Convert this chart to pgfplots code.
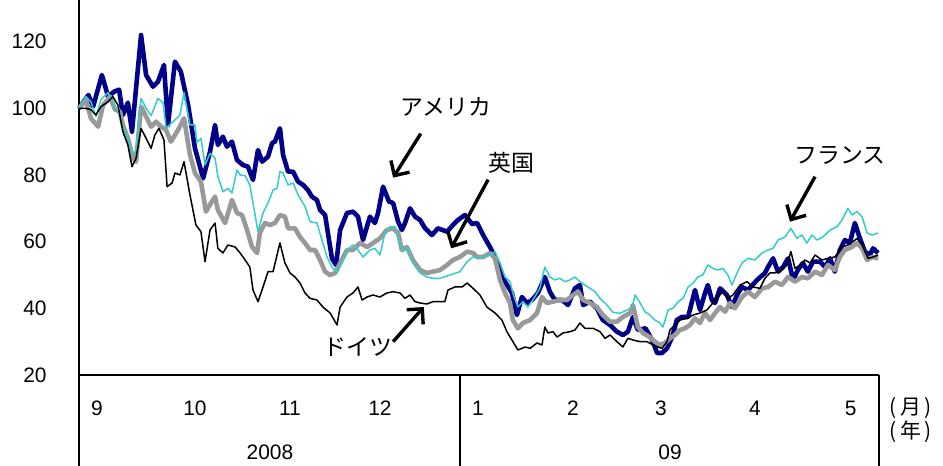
\documentclass[border=0pt]{standalone}
\usepackage{pgfplots}
\pgfplotsset{compat=1.18}
\usepackage{fontspec}
\setmainfont{Liberation Sans}
\newfontfamily\jp{Noto Sans CJK JP}
\usetikzlibrary{arrows.meta}

\definecolor{usa}{RGB}{0,0,136}
\definecolor{fra}{RGB}{51,204,204}
\definecolor{gbr}{RGB}{153,153,153}

\begin{document}
\begin{tikzpicture}
\begin{axis}[
    at={(0,0)}, anchor=south west,
    scale only axis,
    width=400bp, height=187.5bp,
    xmin=0, xmax=255.2,
    ymin=20, ymax=132.5,
    axis lines=left,
    axis line style={-, line width=0.8bp},
    ytick={20,40,60,80,100,120},
    xtick={5.7,37,67.3,96,127.3,157.6,185.6,215.6,246.2},
    xticklabels={9,10,11,12,1,2,3,4,5},
    major tick length=0pt,
    /pgf/number format/assume math mode=true,
    yticklabel style={anchor=east, inner sep=0pt, xshift=-16bp, font=\fontsize{10.5}{12}\selectfont},
    xticklabel style={anchor=center, inner sep=0pt, yshift=-16.5bp, font=\fontsize{10.5}{12}\selectfont},
    clip=false,
]

% アメリカ
\addplot[usa, line width=2.3bp, line join=round] coordinates {
(0,100) (3,104) (4.5,100.5) (7.3,110) (9.3,103.5) (11.2,105) (12.8,105.6) (14,98) (15.6,101.7) (16.9,93)
(19.8,122) (21.4,110) (23.6,106.5) (25.2,108) (27.1,113) (28.4,95) (30.6,114) (32.5,111) (34.8,101) (37,88)
(39.6,79) (41.8,87) (43.4,95) (44.3,89) (45.9,91.5) (47.2,88.5) (48.8,90) (50.4,84.5) (52.3,83) (53.9,82.5)
(55.5,78.5) (57.1,87.5) (58.4,84) (60.3,85.5) (61.6,89.6) (62.5,90) (64.1,94) (65.1,86) (66.7,81) (68.3,81)
(69.9,78) (71.5,77) (73,75.5) (74.3,73.5) (75.9,72.5) (76.9,69.5) (78.5,68) (79.4,62.6) (80.7,55) (82,53)
(83.3,63.5) (85.5,68.6) (87.4,69) (89,67.5) (90.6,60.5) (92.8,67.5) (94.4,65.6) (95.4,68.6) (97,76.5) (98.9,72)
(100.2,71.6) (101.8,66) (103,63.5) (104,65.6) (105.6,70) (107.2,67.5) (108.8,66.5) (110.4,64) (112.6,62) (114.5,64)
(117.4,63) (119.3,65) (120.9,66.5) (123.1,68) (125.4,65.3) (127,65.6) (128.9,62) (131.1,58.4) (132.7,55.4) (134.3,51.5)
(135.9,48) (138.1,44.6) (139.7,38) (141.3,43.4) (142.9,41.6) (144.5,42.5) (146.4,44.6) (148.6,49.4) (150.2,45) (151.8,42.5)
(154.1,42.5) (156,41) (158.2,46) (159.8,47) (160.8,41) (163,42) (165.2,40) (167.1,36.5) (169.4,35) (171.6,33)
(173.5,32) (175.1,33) (176.7,37.4) (178.3,33.5) (180.7,34) (182.3,31.4) (183.1,30) (184.4,26.6) (186,26.6) (187.6,28)
(189.2,31.4) (190.7,36.5) (192.3,37.4) (194.3,37.4) (196.5,45.5) (198.1,39.5) (199.7,44.6) (200.6,47) (201.9,42.5) (202.9,41.6)
(204.5,46) (206.7,44) (208.3,40.4) (209.9,44) (211.5,46.4) (213.4,45.5) (216.3,48.5) (218.8,50.6) (219.8,52.4) (221.4,55)
(223,51) (224.6,52.4) (226.2,55) (227.8,48.5) (229.3,51.5) (230.9,53.6) (232.5,51) (234.1,54) (236.4,54) (238,52.4)
(239.6,55) (241.1,51) (242.7,57.5) (244.3,60.5) (245.9,59.6) (247.5,65.6) (249.1,61) (250.7,57) (252.3,56) (253.3,58)
(254.9,56.6)
};

% 英国
\addplot[gbr, line width=2.3bp, line join=round] coordinates {
(0,100) (2.2,102.6) (3.8,97) (6.1,94.5) (7.7,101) (9.9,103.5) (11.5,99.6) (13.1,99) (14,95) (15.6,91)
(17.2,85) (18.2,84) (19.8,100.5) (21.4,97.5) (23,94.5) (24.6,96) (26.2,94.5) (27.8,93.5) (29.3,90) (31.6,93.5)
(33.5,97) (35.4,86) (37,80.6) (38.9,78) (40.5,69) (42.1,71.6) (43.4,73.5) (44.3,69.5) (46.6,65.6) (48.8,72.5)
(50.4,68.6) (52,68) (53.6,63.5) (55.2,58.4) (56.8,56.6) (57.7,62.6) (59.3,65.6) (60.9,65) (62.5,65.6) (64.1,68)
(65.7,67.5) (66.7,64) (68.9,64) (70.5,61.4) (72.1,59.6) (73.7,57.5) (75.3,57.5) (76.9,54.5) (78.5,51) (80.1,50)
(81.7,50.6) (83.3,53.6) (85.5,57.5) (87.4,57.5) (89.6,59.6) (91.9,58.4) (93.8,59.6) (96,61) (98.2,63.5) (100.2,64)
(101.8,62.6) (103,57.5) (104.6,58.4) (106.5,54.5) (108.8,51.5) (111,50.6) (112.9,51) (115.2,51.5) (117.4,53) (119.3,54.5)
(121.5,55.4) (123.8,57) (125.7,56.6) (127,55.4) (128.9,55.4) (131.1,56.6) (132.7,55) (134.3,48.5) (135.9,44.6) (137.5,41.6)
(138.4,36.5) (140,34) (141.6,35.6) (143.9,36.5) (146.1,38.6) (147.7,43.4) (149.3,41.6) (151.2,42) (153.4,42.5) (155.7,42.5)
(157.6,44) (159.2,45) (160.8,42.5) (163,41.6) (165.2,40.4) (167.1,38) (169.4,36) (171.6,36) (173.5,37.4) (175.8,38.6)
(176.7,41) (178.3,34.4) (179.9,32.6) (182.1,31.4) (183.7,30) (185.3,29) (186.9,29.6) (188.5,31) (190.1,32) (191.7,33.5)
(193.3,34) (194.9,35) (196.5,37) (198.1,35.6) (199.7,38.6) (201.3,36.5) (202.9,38.6) (204.5,40.4) (206.1,39) (207.7,41.6)
(209.2,40) (211.5,43.4) (213.4,45) (215.6,43.4) (217.9,46) (219.8,46.4) (222,48) (224.2,47) (226.2,49.4) (228.4,48)
(230.6,49.4) (232.5,49) (234.8,51) (237,50) (238.9,53) (241.1,51.5) (242.7,55.4) (244.3,57.5) (246.6,58.4) (248.2,59.6)
(249.8,58) (251.4,54.5) (253,55.4) (254.9,55)
};

% フランス
\addplot[fra, line width=0.75bp, line join=round] coordinates {
(0,100) (2.2,103.5) (3.8,102) (5.4,97.5) (7,102.6) (9.3,104.7) (10.8,101.7) (12.4,99) (14,94.5) (15.6,91)
(17.2,86.6) (18.2,87) (19.8,103) (21.4,100) (23,97.8) (25.2,103) (26.8,101.7) (27.8,94) (30,96) (32.2,98)
(33.5,104.7) (35.4,95) (37,95) (37.6,89.7) (38.9,91) (40.2,83) (41.8,86.5) (43.4,85) (44.3,79.5) (45.9,75)
(47.5,76) (48.8,74.6) (50.4,81.5) (51.4,80) (53,79.8) (54.5,77) (55.5,71.6) (57.1,63) (58.7,68.6) (60.3,71.6)
(61.9,75.5) (63.2,76) (64.1,81) (65.1,80.6) (66.7,77) (68.3,77.6) (69.9,74) (72.1,70.5) (73.7,66) (75.9,65.6)
(77.5,60.5) (79.1,55.4) (80.7,52.4) (82.3,50.6) (83.9,53.6) (85.5,57.5) (87.4,59) (89,57.5) (90.6,55.4) (92.8,57.5)
(94.4,58) (96,56) (97.6,62.6) (99.2,64.5) (100.8,64.5) (102.4,59.6) (103.3,57) (104.9,58.4) (106.5,53.6) (108.8,50.6)
(111,49.4) (112.9,49) (115.2,49) (117.4,49.7) (119.3,50.3) (121.5,51) (123.8,54) (125.7,55.4) (128.9,55.4) (131.1,56)
(132.7,57) (134.3,53.6) (135.9,49.4) (137.5,48) (138.4,44.6) (140,40.4) (141.6,42) (143.2,40.4) (144.8,42.5) (147,46)
(148.6,52.4) (150.2,49.4) (151.8,48.5) (153.4,49) (155,48) (156.6,48.5) (158.2,49.4) (159.8,48) (161.4,47) (163,46)
(164.6,45) (166.2,43) (168.4,41) (170.3,38.8) (172.6,38.5) (174.8,39.5) (176.4,40.2) (177.4,44) (179,41.6) (180.5,39)
(182.1,38) (183.7,36.5) (185.3,35.6) (186.3,34.4) (187.9,39.5) (189.5,40) (191.1,42) (192.7,43) (194.3,46.4) (195.9,47.6)
(197.4,49.4) (199,50) (200.6,53) (202.2,52) (203.8,51.5) (205.4,52) (207,50) (208.3,47) (209.9,50.6) (211.5,53.6)
(213.4,55) (215.6,54.5) (217.9,56.6) (219.8,57.5) (221.4,58) (223,60.5) (225.2,61.4) (227.1,64) (229,61) (230.6,62)
(232.2,59.6) (233.8,62) (235.4,60.5) (237.3,61.4) (239.6,63.5) (241.8,64.5) (243.4,66.5) (245.3,70) (246.6,68) (248.2,69)
(249.8,67.5) (251.4,62.6) (253,62) (254.9,62.6)
};

% ドイツ
\addplot[black, line width=0.75bp, line join=round] coordinates {
(0,100) (2.2,100) (3.8,99.6) (5.4,98) (7,100.5) (9.3,102) (10.8,103.5) (12.4,101) (14,93) (15.6,89)
(16.9,82.5) (18.2,85) (19.8,94) (21.4,91) (23,88) (24.2,92) (25.5,94) (27.1,90.5) (28.1,76.5) (29.7,77.6)
(30.6,80.6) (32.2,80) (33.5,84) (35.4,74) (37.3,65) (38.9,63) (40.2,54) (41.8,63.5) (43.4,65.6) (44.3,58)
(45.9,56.6) (47.5,59) (49.8,58.4) (51.4,56.6) (53,54.5) (54.5,52.4) (55.5,45.5) (57.1,42) (58.7,46.4) (60.3,51)
(61.9,51) (64.1,59.6) (65.7,53.6) (67.3,50.6) (68.9,49.4) (70.5,47.6) (72.1,44.6) (73.7,43) (75.9,42.5) (77.8,40.4)
(80.1,38.6) (82.3,35) (83.3,40.4) (85.5,43.4) (87.4,44.6) (89,46.4) (90.3,42.5) (91.9,43.4) (93.8,44) (96,43.4)
(98.2,44.6) (100.2,45) (102.4,44.6) (104,43) (105.6,44) (107.2,42) (108.8,41.6) (111,41.3) (112.9,42) (116.7,42)
(117.7,45.5) (119.9,46.4) (122.2,46.4) (123.8,47.6) (125.7,46) (127.9,44) (130.1,40.4) (132.7,38.6) (134.9,36.5) (136.5,33)
(138.1,30.5) (140,27.5) (142.3,28.4) (143.9,28) (146.1,29.6) (147.7,29) (148.6,34.4) (149.6,32.6) (151.2,33) (152.5,31.4)
(154.4,32.6) (156.6,33) (158.2,33.5) (159.8,35.6) (161.4,34) (164,34) (166.2,33) (167.8,31) (169.4,32) (171.6,30)
(173.5,28.4) (175.1,31) (176.7,30.5) (179,30) (181.2,30) (183.1,29) (184.7,28.4) (186,28) (187.6,30) (188.5,33.5)
(190.1,35) (191.7,36.5) (193.9,37) (195.9,38) (198.1,38.6) (200.3,39.5) (202.2,41.6) (203.8,43.4) (205.4,45) (207,43)
(208.6,44) (210.9,47) (213.1,48) (215,46.4) (217.2,46) (218.8,49) (220.4,50.6) (222,50.6) (224.2,51.5) (225.8,53)
(227.1,57) (228.4,52) (230,53) (231.6,54.5) (233.2,53.6) (234.8,56) (237,54.5) (238.9,55) (241.1,55.4) (243.4,58.4)
(245.3,59) (246.9,60) (248.2,61) (249.8,59) (251.7,55) (253.3,55.4) (254.9,56)
};

% 注記
\node[font=\jp\fontsize{11.5}{13}\selectfont] at (axis cs:117,100.5) {アメリカ};
\draw[-{Straight Barb[length=5.5bp,width=11bp]}, line width=1.7bp] (axis cs:109,92.4) -- (axis cs:100.2,79.2);
\node[font=\jp\fontsize{11.5}{13}\selectfont] at (axis cs:138,83.7) {英国};
\draw[-{Straight Barb[length=5.5bp,width=11bp]}, line width=1.7bp] (axis cs:130.5,78.6) -- (axis cs:118.7,58);
\node[font=\jp\fontsize{11.5}{13}\selectfont] at (axis cs:242.7,85.8) {フランス};
\draw[-{Straight Barb[length=5.5bp,width=11bp]}, line width=1.7bp] (axis cs:234.8,79.5) -- (axis cs:226.8,66);
\node[font=\jp\fontsize{11.5}{13}\selectfont] at (axis cs:89,28.4) {ドイツ};
\draw[-{Straight Barb[length=5.5bp,width=11bp]}, line width=1.7bp] (axis cs:100.2,30) -- (axis cs:110,40.4);
\end{axis}

% 下の表
\draw[line width=0.8bp] (0,0) -- (0,-45.5bp);
\draw[line width=0.8bp] (190.5bp,0) -- (190.5bp,-45.5bp);
\draw[line width=0.8bp] (400bp,0) -- (400bp,-45.5bp);
\node[font=\fontsize{10.5}{12}\selectfont] at (95.5bp,-38.5bp) {2008};
\node[font=\fontsize{10.5}{12}\selectfont] at (295.5bp,-38.5bp) {09};
\node[font=\jp\fontsize{10.5}{12}\selectfont] at (416bp,-16.5bp) {(\,月\,)};
\node[font=\jp\fontsize{10.5}{12}\selectfont] at (416bp,-28.5bp) {(\,年\,)};

\pgfresetboundingbox
\path[use as bounding box] (-39.5bp,-45.5bp) rectangle (432bp,187.5bp);
\end{tikzpicture}
\end{document}
